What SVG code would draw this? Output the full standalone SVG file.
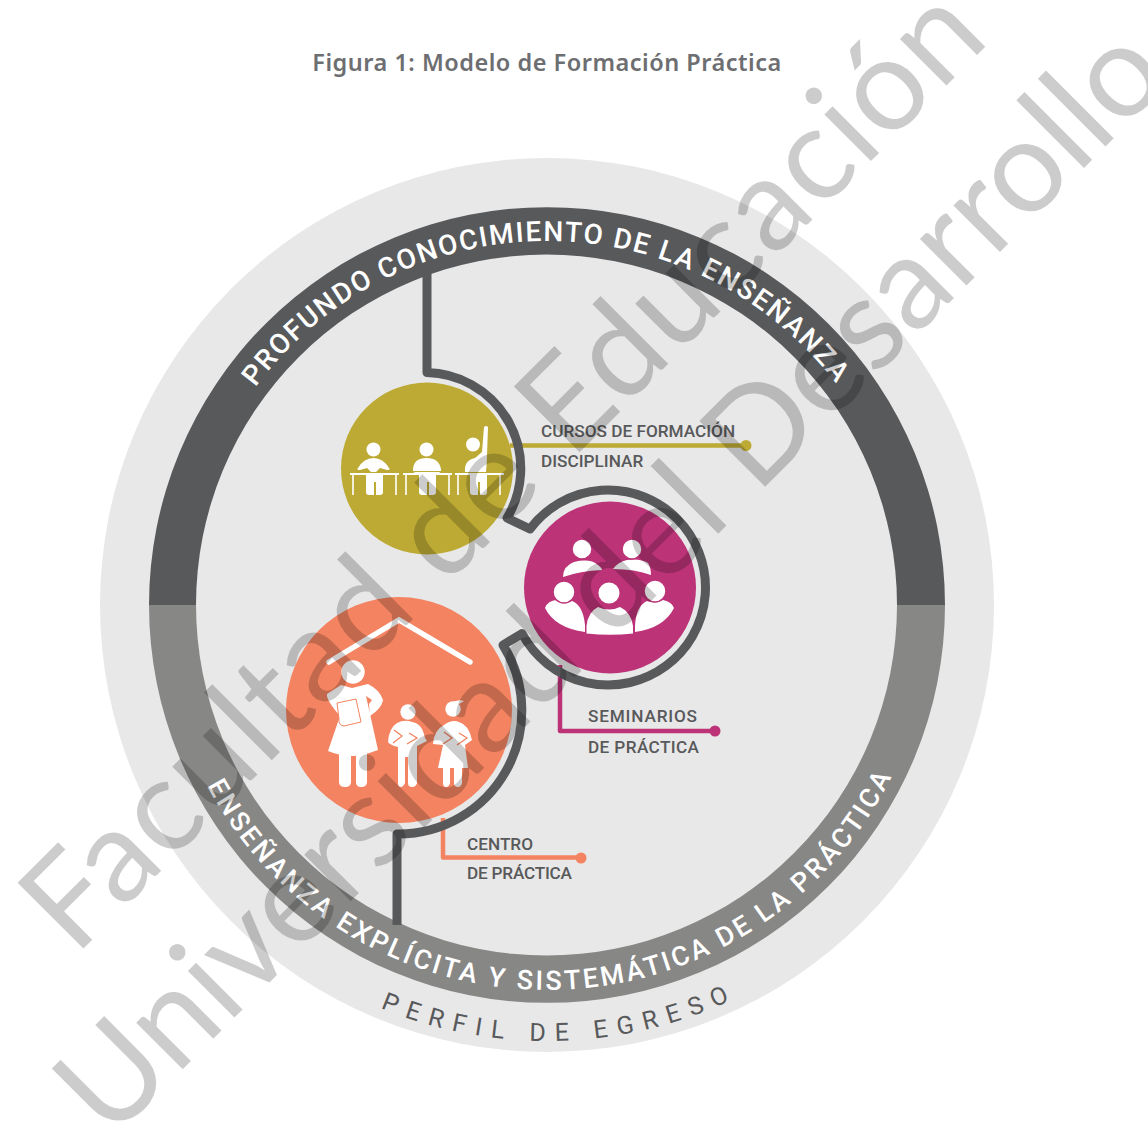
<svg xmlns="http://www.w3.org/2000/svg" width="1148" height="1125" viewBox="0 0 1148 1125">
<style>
.lbl{font-family:"Roboto","Liberation Sans",sans-serif;font-size:17.2px;fill:#58595b;font-weight:500}
.ring{font-family:"Roboto","Liberation Sans",sans-serif;fill:#fff;font-weight:500}
.wm{font-family:"Lato","Noto Sans",sans-serif;font-size:130px;fill:#000;fill-opacity:.2}
.ic{fill:#fff}
.halo{fill:#fff;stroke:#bc3378;stroke-width:1.5}
.dk{fill:none;stroke:#58595b;stroke-width:9;stroke-linejoin:round;stroke-linecap:butt}
.ln{fill:none;stroke-width:4.5;stroke-linejoin:round}
.thin{stroke:#fff;stroke-width:1.6;fill:none}
</style>
<defs>
<path id="arcTop" d="M183 605A364 364 0 0 1 911 605"/>
<path id="arcBot" d="M162 605A385 385 0 0 0 932 605"/>
<path id="arcPerf" d="M111 605A436 436 0 0 0 983 605"/>
</defs>
<rect width="1148" height="1125" fill="#fff"/>
<text x="547" y="71" text-anchor="middle" font-family="'Noto Sans','Liberation Sans',sans-serif" font-weight="600" font-size="23.5" letter-spacing=".5" fill="#6d6e71">Figura 1: Modelo de Formación Práctica</text>
<g id="base">
<circle cx="547" cy="605" r="447" fill="#e8e8e8"/>
<path id="ring-top" d="M149 605A398 398 0 0 1 945 605H897A350 350 0 0 0 196 605Z" fill="#58595b"/>
<path id="ring-bot" d="M149 605A398 398 0 0 0 945 605H897A350 350 0 0 1 196 605Z" fill="#878786"/>
</g>
<g id="connectors">
<path class="ln" stroke="#bdaa34" d="M510 445.500H746"/>
<circle cx="746" cy="445.500" r="5.500" fill="#bdaa34"/>
<path class="ln" stroke="#bc3378" d="M560 665V731H715"/>
<circle cx="715" cy="731" r="5.500" fill="#bc3378"/>
<path class="ln" stroke="#f38361" d="M443 818V857.500H581"/>
<circle cx="581" cy="858" r="5.500" fill="#f38361"/>
<path class="dk" d="M427 272V372.500A96 96 0 0 1 507 518L530 529A97.500 97.500 0 1 1 522 633.500L503 645A123.500 123.500 0 0 1 397 834V925"/>
</g>
<g id="node-cursos">
<circle cx="427" cy="468.500" r="86" fill="#bdaa34"/>
<g class="ic">
<circle cx="373.500" cy="449.500" r="7"/><circle cx="426.500" cy="449.500" r="7"/><circle cx="473" cy="444.500" r="7"/>
<path d="M358 468Q364 458 373.500 458Q383 458 389 468Q391 470 387 470L380 468L376 472H371L367 468L360 470Q356 470 358 468Z"/>
<path d="M413 469Q414 458 426.500 458Q439 458 441 469V471H413ZM415 472H439L442 474H412Z"/>
<path d="M465 472Q464 460 475 458L482 452L484 427Q486 425 488 427L487 455Q487 463 486 472Z"/>
<path d="M366 475H383V492Q383 495 380 495H376V482H374V495H369Q366 495 366 492Z"/>
<path d="M419 475H436V492Q436 495 433 495H429V482H427V495H422Q419 495 419 492Z"/>
<path d="M470 475H487V492Q487 495 484 495H480V482H478V495H473Q470 495 470 492Z"/>
<rect x="350" y="473" width="49" height="2"/><rect x="403" y="473" width="49" height="2"/><rect x="455" y="473" width="49" height="2"/>
</g>
<path class="thin" d="M353 475V495M396 475V495M406 475V495M449 475V495M458 475V495M500 475V495"/>
</g>
<g id="node-seminarios">
<circle cx="610" cy="587.500" r="86" fill="#bc3378"/>
<g class="ic">
<path d="M563 577Q563 566 574 562Q590 558 598 565Q602 568 602 570Q580 571 563 577Z"/>
<path d="M613 569Q618 562 627 560Q640 558 648 563Q651 568 651 575Q635 569 613 569Z"/>
<circle class="halo" cx="582" cy="549" r="10"/><circle class="halo" cx="632" cy="549" r="10"/>
<path d="M545 608Q548 600 558 600Q566 604 572 601Q583 605 585 625V632Q555 628 545 608Z"/>
<path d="M586.500 626Q588 612 598 607Q609 612 620 607Q631 612 633 626V633.500Q610 636 586.500 633.500Z"/>
<path d="M635 626Q636 606 647 601Q655 604 663 600Q672 602 674 608Q664 628 635 632Z"/>
<circle class="halo" cx="564" cy="592" r="11"/><circle class="halo" cx="609" cy="593" r="11.300"/><circle class="halo" cx="655" cy="591" r="11"/>
</g>
</g>
<g id="node-centro">
<circle cx="399" cy="710" r="113" fill="#f38361"/>
<path d="M329 662L399 620L470 662" fill="none" stroke="#fff" stroke-width="5.500" stroke-linecap="round"/>
<g class="ic">
<circle cx="353" cy="672" r="11.700"/>
<path d="M341 685L352 688L368 684Q380 690 383 700Q382 708 370 716L369 704L372 700L366 696L378 750Q362 756 352 756Q340 756 328 751L340 716Q326 700 327 694Z"/>
<path d="M339 752H351V782Q351 787 345 787Q339 787 339 782ZM356 752H367V782Q367 787 361 787Q356 787 356 782Z"/>
<path d="M337 703L356 699L361 722L344 726Q338 725 339 719Z" stroke="#f38361" stroke-width="1"/>
<circle cx="408" cy="712" r="7.700"/>
<path d="M397 723Q405 719 412 722Q422 723 425 738L427 741L417 746V783Q416 787 412 787Q408 787 408 783V757H405V783Q403 787 401 787Q398 787 398 783V747Q390 745 388 742Q389 728 397 723Z"/>
<circle cx="453" cy="709" r="7.700"/>
<path d="M451 703Q458 699 464 701Q460 703 458 705Z"/>
<path d="M444 725Q452 719 459 722Q469 725 472 740L465 745L468 768H462V783Q461 787 458 787Q454 787 454 783V768H450V783Q449 787 446 787Q443 787 443 783V768H438L443 745L433 744Q434 730 444 725Z"/>
</g>
<path d="M394 730L402 736L393 743M409 733L417 738L407 744M444 732L452 738L443 744M459 733L467 738L457 745" fill="none" stroke="#f38361" stroke-width="1.300"/>
</g>
<g id="labels">
<text class="lbl" x="541" y="437">CURSOS DE FORMACIÓN</text>
<text class="lbl" x="541" y="467">DISCIPLINAR</text>
<text class="lbl" x="588" y="722" textLength="109">SEMINARIOS</text>
<text class="lbl" x="588" y="753" textLength="111">DE PRÁCTICA</text>
<text class="lbl" x="467" y="850">CENTRO</text>
<text class="lbl" x="467" y="879" textLength="105">DE PRÁCTICA</text>
<text class="ring" font-size="28" text-anchor="middle"><textPath href="#arcTop" startOffset="49.800%" textLength="672" lengthAdjust="spacing">PROFUNDO CONOCIMIENTO DE LA ENSEÑANZA</textPath></text>
<text class="ring" font-size="27" text-anchor="middle"><textPath href="#arcBot" startOffset="50.400%" textLength="843" lengthAdjust="spacing">ENSEÑANZA EXPLÍCITA Y SISTEMÁTICA DE LA PRÁCTICA</textPath></text>
<text font-family="Roboto,'Liberation Sans',sans-serif" fill="#58595b" font-size="25" text-anchor="middle"><textPath href="#arcPerf" startOffset="50.650%" textLength="360" lengthAdjust="spacing">PERFIL DE EGRESO</textPath></text>
</g>
<g id="watermark">
<text class="wm" letter-spacing="1.300" transform="translate(75 957) rotate(-45)">Facultad de Educación</text>
<text class="wm" transform="translate(110 1142) rotate(-45)">Universidad del Desarrollo</text>
</g>
</svg>
